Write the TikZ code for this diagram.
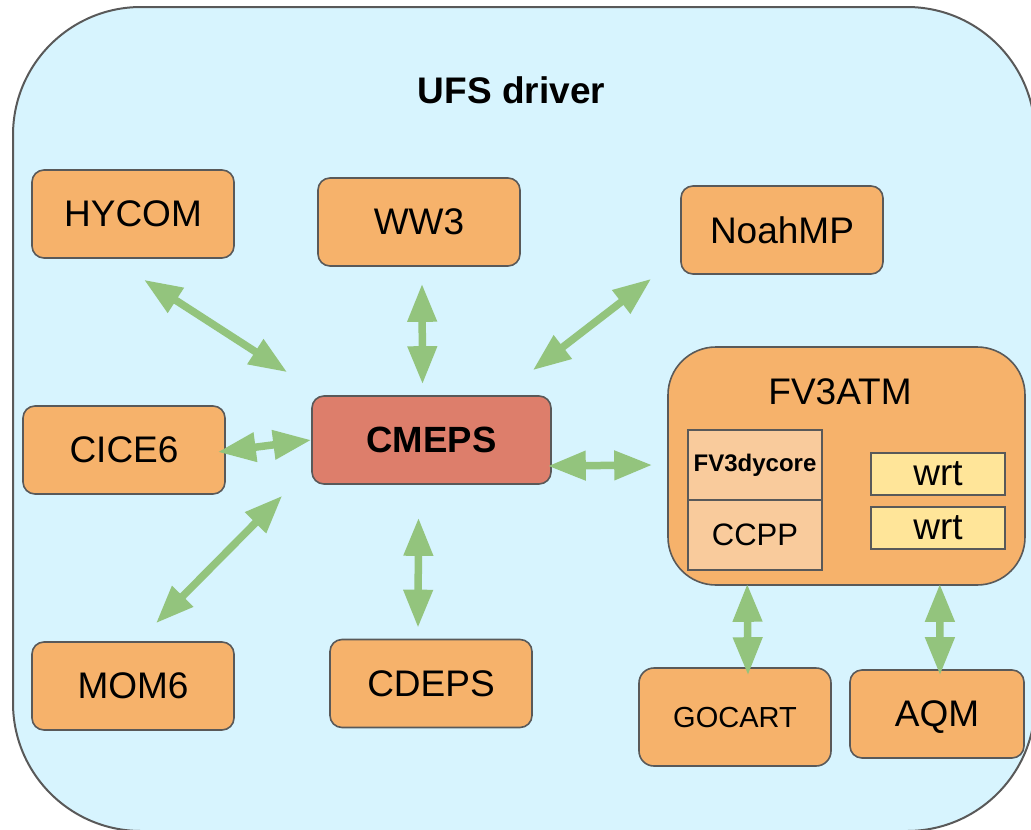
\documentclass[tikz,border=0pt]{standalone}
\usepackage{fontspec}
\setmainfont{Liberation Sans}
\usetikzlibrary{arrows.meta,calc}
\definecolor{drvblue}{HTML}{D7F4FE}
\definecolor{compfill}{HTML}{F6B26B}
\definecolor{hubfill}{HTML}{DD7E6B}
\definecolor{subfill}{HTML}{F9CB9C}
\definecolor{wrtfill}{HTML}{FFE599}
\definecolor{linkgreen}{HTML}{93C47D}
\definecolor{edgegray}{HTML}{595959}
\begin{document}
\begin{tikzpicture}[x=1pt,y=-1pt,
  comp/.style={draw=edgegray, line width=1.6pt, fill=compfill, rounded corners=12pt,
    minimum width=202pt, minimum height=88pt, inner sep=0pt, text depth=0pt,
    font=\fontsize{37}{40}\selectfont},
  hub/.style={comp, fill=hubfill, minimum width=239pt, font=\fontsize{36.5}{40}\selectfont\bfseries},
  subbox/.style={draw=edgegray, line width=1.6pt, fill=subfill, minimum width=134pt,
    minimum height=70pt, inner sep=0pt},
  wrtbox/.style={subbox, fill=wrtfill, minimum height=42pt, font=\fontsize{37}{40}\selectfont},
  link/.style={draw=linkgreen, line width=7.5pt,
    {Triangle[length=38pt,width=28pt]}-{Triangle[length=38pt,width=28pt]}}]
  \useasboundingbox (0,0) rectangle (1031,830);
  % driver
  \draw[draw=edgegray, line width=2pt, fill=drvblue, rounded corners=128pt] (13,7) rectangle (1035,831);
  \node[font=\fontsize{37}{40}\selectfont\bfseries] (ufs) at (511.5,90) {UFS driver};
  % components
  \node[comp] (hycom)  at (133,214) {HYCOM};
  \node[comp] (ww3)    at (419,222) {WW3};
  \node[comp] (noahmp) at (782,230) {NoahMP};
  \node[comp] (cice6)  at (124,450) {CICE6};
  \node[hub]  (cmeps)  at (431.5,440) {CMEPS};
  \node[comp] (mom6)   at (133,686) {MOM6};
  \node[comp] (cdeps)  at (431,683.5) {CDEPS};
  \node[comp, minimum width=192pt, minimum height=98pt, rounded corners=15pt,
    font=\fontsize{29}{32}\selectfont] (gocart) at (735,717) {GOCART};
  \node[comp, minimum width=174pt] (aqm) at (937,714) {AQM};
  % atmosphere
  \node[comp, minimum width=357pt, minimum height=238pt, rounded corners=48pt] (fv3atm) at (846.5,466) {};
  \node[font=\fontsize{37}{40}\selectfont] (fv3title) at (840,392) {FV3ATM};
  \node[subbox, font=\fontsize{24}{28}\selectfont\bfseries] (dycore) at (755,465) {FV3dycore};
  \node[subbox, font=\fontsize{31}{34}\selectfont] (ccpp) at (755,535) {CCPP};
  \node[wrtbox] (wrta) at (938,474) {wrt};
  \node[wrtbox] (wrtb) at (938,528) {wrt};
  % couplings
  \draw[link] ($(hycom.south)+(11,21)$) -- ($(cmeps.north west)+(-24,-23)$);
  \draw[link] ($(ww3.south)+(3,17)$) -- ($(cmeps.north)+(-9,-11)$);
  \draw[link] ($(noahmp.south west)+(-29,4)$) -- ($(cmeps.north east)+(-19,-25)$);
  \draw[link] ($(cice6.east)+(-8,2)$) -- (cmeps.west);
  \draw[link] ($(mom6.north)+(23,-18)$) -- ($(cmeps.south west)+(-29,11)$);
  \draw[link] ($(cdeps.north)+(-13,-11)$) -- ($(cmeps.south)+(-13,33)$);
  \draw[link] ($(cmeps.east)+(-4,26)$) -- ($(fv3atm.west)+(-15,-1)$);
  \draw[link] ($(gocart.north)+(13,8)$) -- ($(fv3atm.south west)+(80,-2)$);
  \draw[link] ($(aqm.north)+(3,6)$) -- ($(fv3atm.south east)+(-86,-2)$);
\end{tikzpicture}
\end{document}
